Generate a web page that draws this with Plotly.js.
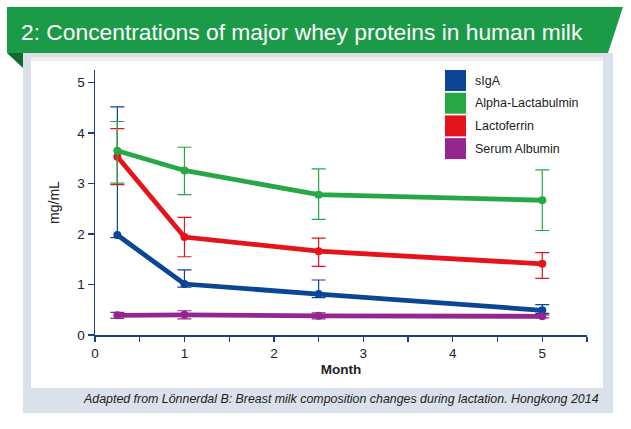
<!DOCTYPE html>
<html>
<head>
<meta charset="utf-8">
<script src="https://cdn.plot.ly/plotly-3.0.1.min.js"></script>
<style>html,body{margin:0;padding:0;background:#fff;}#chart{width:631px;height:429px;}</style>
</head>
<body>
<div id="chart"></div>
<script>
// ---- data ----
const months = [0.25, 1, 2.5, 5];
const seriesNames = ["sIgA", "Alpha-Lactabulmin", "Lactoferrin", "Serum Albumin"];
const sIgA = [1.98, 1.01, 0.81, 0.49];
const sIgAPlus = [2.54, 0.28, 0.28, 0.11];
const sIgAMinus = [0.05, 0.06, 0.07, 0.06];
const alphaLac = [3.65, 3.26, 2.78, 2.67];
const alphaLacPlus = [0.58, 0.46, 0.51, 0.60];
const alphaLacMinus = [0.64, 0.48, 0.49, 0.60];
const lactoferrin = [3.53, 1.94, 1.66, 1.41];
const lactoferrinPlus = [0.56, 0.39, 0.26, 0.22];
const lactoferrinMinus = [0.55, 0.39, 0.30, 0.29];
const serumAlb = [0.39, 0.40, 0.38, 0.37];
const serumAlbErr = [0.06, 0.08, 0.06, 0.03];
const xTickVals = [0, 0.5, 1, 1.5, 2, 2.5, 3, 3.5, 4, 4.5, 5, 5.5];
const xTickText = ["0", "", "1", "", "2", "", "3", "", "4", "", "5", ""];
const yTickVals = [0, 1, 2, 3, 4, 5];

const colors = ["#0b4595", "#27a844", "#e5141c", "#93278f"];
const W = 631, H = 429;
const M = {l: 95, r: 44, t: 70, b: 94};
const PW = W - M.l - M.r, PH = H - M.t - M.b;
const px = v => (v - M.l) / PW;          // pixel -> paper x
const py = v => (H - M.b - v) / PH;      // pixel -> paper y

function mk(name, y, plus, minus, color) {
  return {
    x: months, y: y, name: name, type: "scatter", mode: "lines+markers",
    line: {color: color, width: 4.8},
    marker: {color: color, size: 8},
    error_y: {type: "data", symmetric: false, array: plus, arrayminus: minus,
              color: color, thickness: 1.2, width: 7},
    showlegend: false
  };
}
const traces = [
  mk(seriesNames[0], sIgA, sIgAPlus, sIgAMinus, colors[0]),
  mk(seriesNames[3], serumAlb, serumAlbErr, serumAlbErr, colors[3]),
  mk(seriesNames[2], lactoferrin, lactoferrinPlus, lactoferrinMinus, colors[2]),
  mk(seriesNames[1], alphaLac, alphaLacPlus, alphaLacMinus, colors[1])
];

function rect(x0, y0, x1, y1, fill) {
  return {type: "rect", xref: "paper", yref: "paper", x0: px(x0), x1: px(x1), y0: py(y1), y1: py(y0),
          fillcolor: fill, line: {width: 0}, layer: "below"};
}
function path(pts, fill) {
  const d = "M " + pts.map(p => px(p[0]) + "," + py(p[1])).join(" L ") + " Z";
  return {type: "path", xref: "paper", yref: "paper", path: d, fillcolor: fill, line: {width: 0}, layer: "below"};
}
const shapes = [
  rect(23, 53, 613, 413, "#dae1ea"),
  rect(31, 53, 603, 388, "#ffffff"),
  rect(31, 53, 603, 57, "#dedede"),
  rect(31, 57, 603, 61, "#efefef"),
  path([[7, 7], [623, 7], [608, 53], [7, 53]], "#1b9a47"),
  path([[7, 53], [23, 53], [23, 68]], "#0f6a2e")
];
const annotations = [
  {xref: "paper", yref: "paper", x: px(19), y: py(32), xanchor: "left", yanchor: "middle",
   text: "2: Concentrations of major whey proteins in human milk", showarrow: false,
   font: {family: "Liberation Sans, Arial, sans-serif", size: 22.8, color: "#ffffff"}},
  {xref: "paper", yref: "paper", x: px(601), y: py(399), xanchor: "right", yanchor: "middle",
   text: "<i>Adapted from Lönnerdal B: Breast milk composition changes during lactation. Hongkong 2014</i>",
   showarrow: false, font: {family: "Liberation Sans, Arial, sans-serif", size: 12.4, color: "#222"}}
];
// legend drawn as colour squares + labels
const legTop = 70, legPitch = 22.7, legSq = 21;
seriesNames.forEach((n, i) => {
  const y0 = legTop + i * legPitch;
  shapes.push({type: "rect", xref: "paper", yref: "paper", x0: px(445), x1: px(466),
               y0: py(y0 + legSq), y1: py(y0), fillcolor: colors[i], line: {width: 0}});
  annotations.push({xref: "paper", yref: "paper", x: px(473), y: py(y0 + legSq / 2),
                    xanchor: "left", yanchor: "middle", text: n, showarrow: false,
                    font: {family: "Liberation Sans, Arial, sans-serif", size: 12.5, color: "#222"}});
});

const axisColor = "#1b3f7f";
const layout = {
  width: W, height: H, margin: M,
  paper_bgcolor: "#ffffff", plot_bgcolor: "rgba(0,0,0,0)",
  font: {family: "Liberation Sans, Arial, sans-serif", color: "#222"},
  showlegend: false,
  xaxis: {range: [0, 5.5], tickvals: xTickVals, ticktext: xTickText, ticks: "outside", ticklen: 5,
          tickcolor: axisColor, tickwidth: 1.3, showline: true, linecolor: axisColor, linewidth: 1.5,
          showgrid: false, zeroline: false, tickfont: {size: 13.5, color: "#222"},
          title: {text: "<b>Month</b>", font: {size: 13.5, color: "#222"}, standoff: 5}},
  yaxis: {range: [0, 5.25], tickvals: yTickVals, ticks: "outside", ticklen: 6,
          tickcolor: axisColor, tickwidth: 1.3, showline: true, linecolor: axisColor, linewidth: 1.5,
          showgrid: false, zeroline: false, tickfont: {size: 13.5, color: "#222"},
          title: {text: "mg/mL", font: {size: 14, color: "#222"}, standoff: 14}},
  shapes: shapes, annotations: annotations
};
Plotly.newPlot("chart", traces, layout, {displayModeBar: false, staticPlot: true});
</script>
</body>
</html>
